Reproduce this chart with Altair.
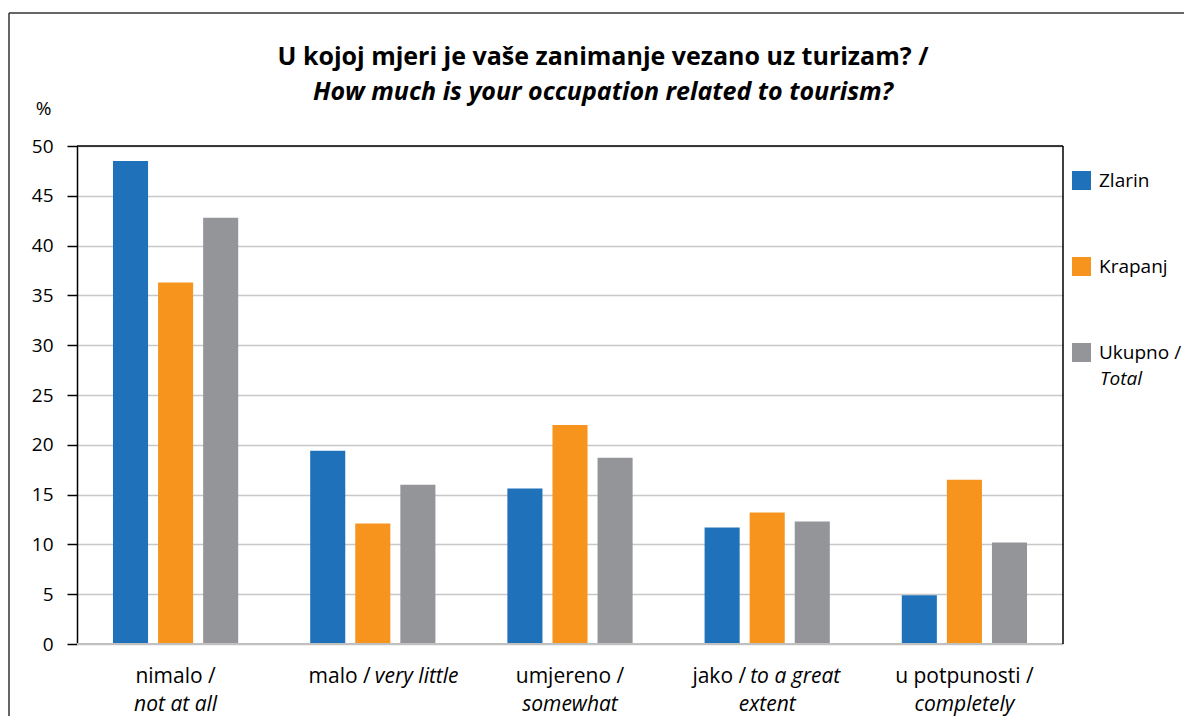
import altair as alt
import pandas as pd

# ---- data ----
categories = ["nimalo", "malo", "umjereno", "jako", "u potpunosti"]
series = ["Zlarin", "Krapanj", "Ukupno /"]
zlarin = [48.5, 19.4, 15.6, 11.7, 4.9]
krapanj = [36.3, 12.1, 22.0, 13.2, 16.5]
ukupno = [42.8, 16.0, 18.7, 12.3, 10.2]
colors = ["#1F72BA", "#F7941E", "#949599"]

label_regular = ["nimalo /", "malo /", "umjereno /", "jako /", "u potpunosti /"]
label_italic_same_line = ["", "very little", "", "to a great", ""]
label_italic_line2 = ["not at all", "", "somewhat", "extent", "completely"]

title_line1 = "U kojoj mjeri je vaše zanimanje vezano uz turizam? /"
title_line2 = "How much is your occupation related to tourism?"
legend_extra = "Total"
y_ticks = [0, 5, 10, 15, 20, 25, 30, 35, 40, 45, 50]

FONT = "Open Sans"
W, H = 986, 498

rows = []
for s, vals in zip(series, [zlarin, krapanj, ukupno]):
    for c, v in zip(categories, vals):
        rows.append({"cat": c, "series": s, "value": v})
df = pd.DataFrame(rows)

labels = pd.DataFrame({
    "cat": categories,
    "reg": label_regular,
    "ital1": label_italic_same_line,
    "ital2": label_italic_line2,
})

x_enc = alt.X("cat:N", sort=categories,
              scale=alt.Scale(domain=categories, paddingInner=0.365, paddingOuter=0.1825),
              axis=None)
y_scale = alt.Scale(domain=[0, 50], nice=False)

bars = alt.Chart(df).mark_bar().encode(
    x=x_enc,
    xOffset=alt.XOffset("series:N", sort=series,
                        scale=alt.Scale(domain=series, paddingInner=0.222, paddingOuter=0)),
    y=alt.Y("value:Q", scale=y_scale,
            axis=alt.Axis(values=y_ticks, title="%", titleAngle=0, titleX=-34, titleY=-38,
                          titleAlign="center", titleBaseline="middle", titleFont=FONT,
                          titleFontSize=19, titleFontWeight="normal", titleColor="black",
                          labelFont=FONT, labelFontSize=19, labelColor="black",
                          labelPadding=14, tickSize=10, tickColor="black", tickWidth=1.5,
                          domainColor="black", domainWidth=1.5,
                          gridColor="#c8c8c8", gridWidth=1.5)),
    color=alt.Color("series:N", sort=series,
                    scale=alt.Scale(domain=series, range=colors),
                    legend=alt.Legend(title=None, orient="none", legendX=995, legendY=25,
                                      symbolType="square", symbolSize=361, symbolStrokeWidth=0,
                                      labelFont=FONT, labelFontSize=19, labelColor="black",
                                      labelOffset=8, rowPadding=66, padding=0)),
)

top_rule = alt.Chart(pd.DataFrame({"v": [50]})).mark_rule(color="black", strokeWidth=1.5).encode(
    y=alt.Y("v:Q", scale=y_scale))
bottom_rule = alt.Chart(pd.DataFrame({"v": [0]})).mark_rule(color="#c0c0c0", strokeWidth=2).encode(
    y=alt.Y("v:Q", scale=y_scale))
right_rule = alt.Chart(pd.DataFrame({"v": [0]})).mark_rule(color="black", strokeWidth=1.5).encode(
    x=alt.value(W), y=alt.value(0), y2=alt.value(H))

# outer frame (top and left edges only, as in the reference)
frame_top = alt.Chart(pd.DataFrame({"v": [0]})).mark_rule(color="#333333", strokeWidth=1.5).encode(
    x=alt.value(-68), x2=alt.value(W + 121), y=alt.value(-133))
frame_left = alt.Chart(pd.DataFrame({"v": [0]})).mark_rule(color="#333333", strokeWidth=1.5).encode(
    x=alt.value(-68), y=alt.value(-133), y2=alt.value(H + 72))

base_lbl = alt.Chart(labels)
txt = dict(font=FONT, fontSize=21, color="black", baseline="middle")

reg_center = base_lbl.transform_filter("datum.ital1 == ''").mark_text(align="center", **txt).encode(
    x=x_enc, y=alt.value(H + 33), text="reg:N")
line2 = base_lbl.transform_filter("datum.ital2 != ''").mark_text(
    align="center", fontStyle="italic", **txt).encode(
    x=x_enc, y=alt.value(H + 61), text="ital2:N")

split_layers = []
split_shift = {"malo": (-2, 2), "jako": (-21, -17)}
for c, (dr, di) in split_shift.items():
    sub = base_lbl.transform_filter(alt.datum.cat == c)
    split_layers.append(sub.mark_text(align="right", dx=dr, **txt).encode(
        x=x_enc, y=alt.value(H + 33), text="reg:N"))
    split_layers.append(sub.mark_text(align="left", dx=di, fontStyle="italic", **txt).encode(
        x=x_enc, y=alt.value(H + 33), text="ital1:N"))

legend_txt = dict(font=FONT, fontSize=19, color="black", baseline="middle")
total_txt = alt.Chart(pd.DataFrame({"t": [legend_extra]})).mark_text(
    align="left", fontStyle="italic", **legend_txt).encode(
    x=alt.value(1023), y=alt.value(233), text="t:N")

title_df = pd.DataFrame({"t1": [title_line1], "t2": [title_line2]})
title1 = alt.Chart(title_df).mark_text(font=FONT, fontSize=25, fontWeight="bold", color="black",
                                       align="center", baseline="middle").encode(
    x=alt.value(W / 2 + 33), y=alt.value(-89), text="t1:N")
title2 = alt.Chart(title_df).mark_text(font=FONT, fontSize=25, fontWeight="bold", fontStyle="italic",
                                       color="black", align="center", baseline="middle").encode(
    x=alt.value(W / 2 + 33), y=alt.value(-54), text="t2:N")

chart = alt.layer(
    frame_top, frame_left, bars, top_rule, bottom_rule, right_rule,
    reg_center, line2, *split_layers, total_txt, title1, title2
).properties(
    width=W, height=H,
    autosize=alt.AutoSizeParams(type="none"),
    padding={"left": 69, "top": 138, "right": 121, "bottom": 72},
).configure_view(stroke=None)

chart.save("out.html", embed_options={"renderer": "svg", "actions": False})
